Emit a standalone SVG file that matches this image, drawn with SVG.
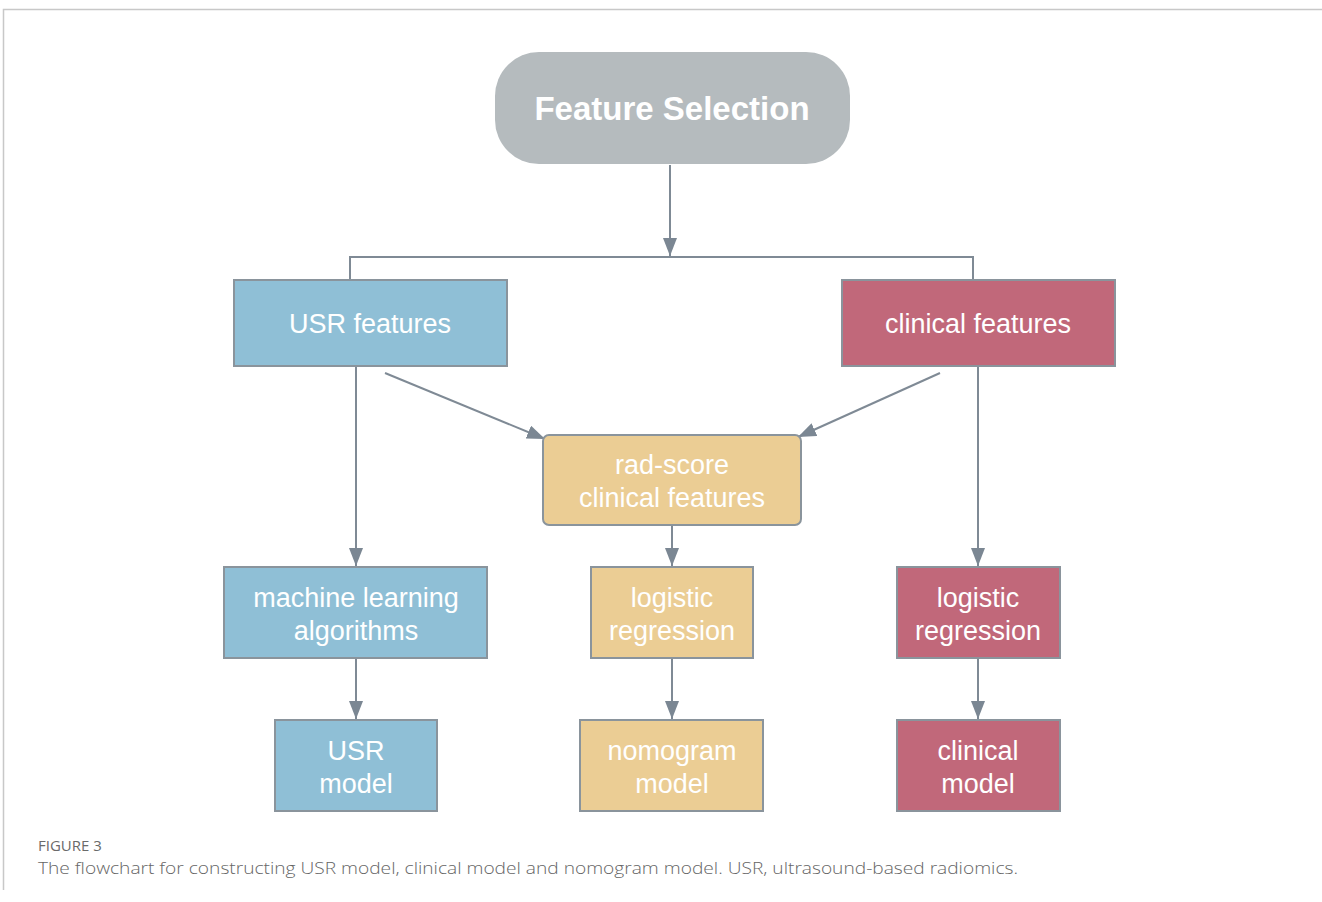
<svg xmlns="http://www.w3.org/2000/svg" width="1322" height="902" viewBox="0 0 1322 902">
<defs>
<marker id="ah" viewBox="0 0 18 14" refX="18" refY="7" markerWidth="18" markerHeight="14" markerUnits="userSpaceOnUse" orient="auto">
<path d="M0,0 L18,7 L0,14 Z" fill="#7b8793"/>
</marker>
<style>
.frame{stroke:#c8c8c8;stroke-width:1.5;fill:none}
.con{stroke:#7f8a95;stroke-width:2;fill:none}
.blue{fill:#8fbfd6;stroke:#8a949c;stroke-width:2}
.red{fill:#c1687a;stroke:#8a949c;stroke-width:2}
.tan{fill:#ebcd94;stroke:#8a949c;stroke-width:2}
.lbl{font-family:"Liberation Sans",Arial,sans-serif;font-size:27px;fill:#ffffff;text-anchor:middle}
.title{font-family:"Liberation Sans",Arial,sans-serif;font-size:33px;font-weight:bold;fill:#ffffff;text-anchor:middle}
.cap1{font-family:"Open Sans",sans-serif;font-size:15px;fill:#6a6a6a}
.cap2{font-family:"Open Sans",sans-serif;font-size:16px;fill:#666666;font-weight:300}
</style>
</defs>
<rect width="1322" height="902" fill="#ffffff"/>
<path class="frame" d="M3.5,890 V9.5 H1322"/>

<g id="connectors">
<path class="con" d="M670,165 V256" marker-end="url(#ah)"/>
<path class="con" d="M350,279 V257 H973 V279"/>
<path class="con" d="M356,366 V566" marker-end="url(#ah)"/>
<path class="con" d="M385,373 L545,439" marker-end="url(#ah)"/>
<path class="con" d="M940,373 L798,437" marker-end="url(#ah)"/>
<path class="con" d="M978,366 V566" marker-end="url(#ah)"/>
<path class="con" d="M672,526 V566" marker-end="url(#ah)"/>
<path class="con" d="M356,659 V719" marker-end="url(#ah)"/>
<path class="con" d="M672,659 V719" marker-end="url(#ah)"/>
<path class="con" d="M978,659 V719" marker-end="url(#ah)"/>
</g>

<g id="feature-selection">
<rect x="495" y="52" width="355" height="112" rx="44" fill="#b5bbbe"/>
<text class="title" x="672" y="120">Feature Selection</text>
</g>

<g id="usr-features">
<rect class="blue" x="234" y="280" width="273" height="86"/>
<text class="lbl" x="370" y="333">USR features</text>
</g>

<g id="clinical-features">
<rect class="red" x="842" y="280" width="273" height="86"/>
<text class="lbl" x="978" y="333">clinical features</text>
</g>

<g id="rad-score">
<rect class="tan" x="543" y="435" width="258" height="90" rx="6"/>
<text class="lbl" x="672" y="474">rad-score</text>
<text class="lbl" x="672" y="507">clinical features</text>
</g>

<g id="ml-algorithms">
<rect class="blue" x="224" y="567" width="263" height="91"/>
<text class="lbl" x="356" y="607">machine learning</text>
<text class="lbl" x="356" y="640">algorithms</text>
</g>

<g id="logistic-mid">
<rect class="tan" x="591" y="567" width="162" height="91"/>
<text class="lbl" x="672" y="607">logistic</text>
<text class="lbl" x="672" y="640">regression</text>
</g>

<g id="logistic-right">
<rect class="red" x="897" y="567" width="163" height="91"/>
<text class="lbl" x="978" y="607">logistic</text>
<text class="lbl" x="978" y="640">regression</text>
</g>

<g id="usr-model">
<rect class="blue" x="275" y="720" width="162" height="91"/>
<text class="lbl" x="356" y="760">USR</text>
<text class="lbl" x="356" y="793">model</text>
</g>

<g id="nomogram-model">
<rect class="tan" x="580" y="720" width="183" height="91"/>
<text class="lbl" x="672" y="760">nomogram</text>
<text class="lbl" x="672" y="793">model</text>
</g>

<g id="clinical-model">
<rect class="red" x="897" y="720" width="163" height="91"/>
<text class="lbl" x="978" y="760">clinical</text>
<text class="lbl" x="978" y="793">model</text>
</g>

<text class="cap1" x="38" y="851">FIGURE 3</text>
<text class="cap2" x="38" y="874" textLength="980" lengthAdjust="spacingAndGlyphs">The flowchart for constructing USR model, clinical model and nomogram model. USR, ultrasound-based radiomics.</text>
</svg>
